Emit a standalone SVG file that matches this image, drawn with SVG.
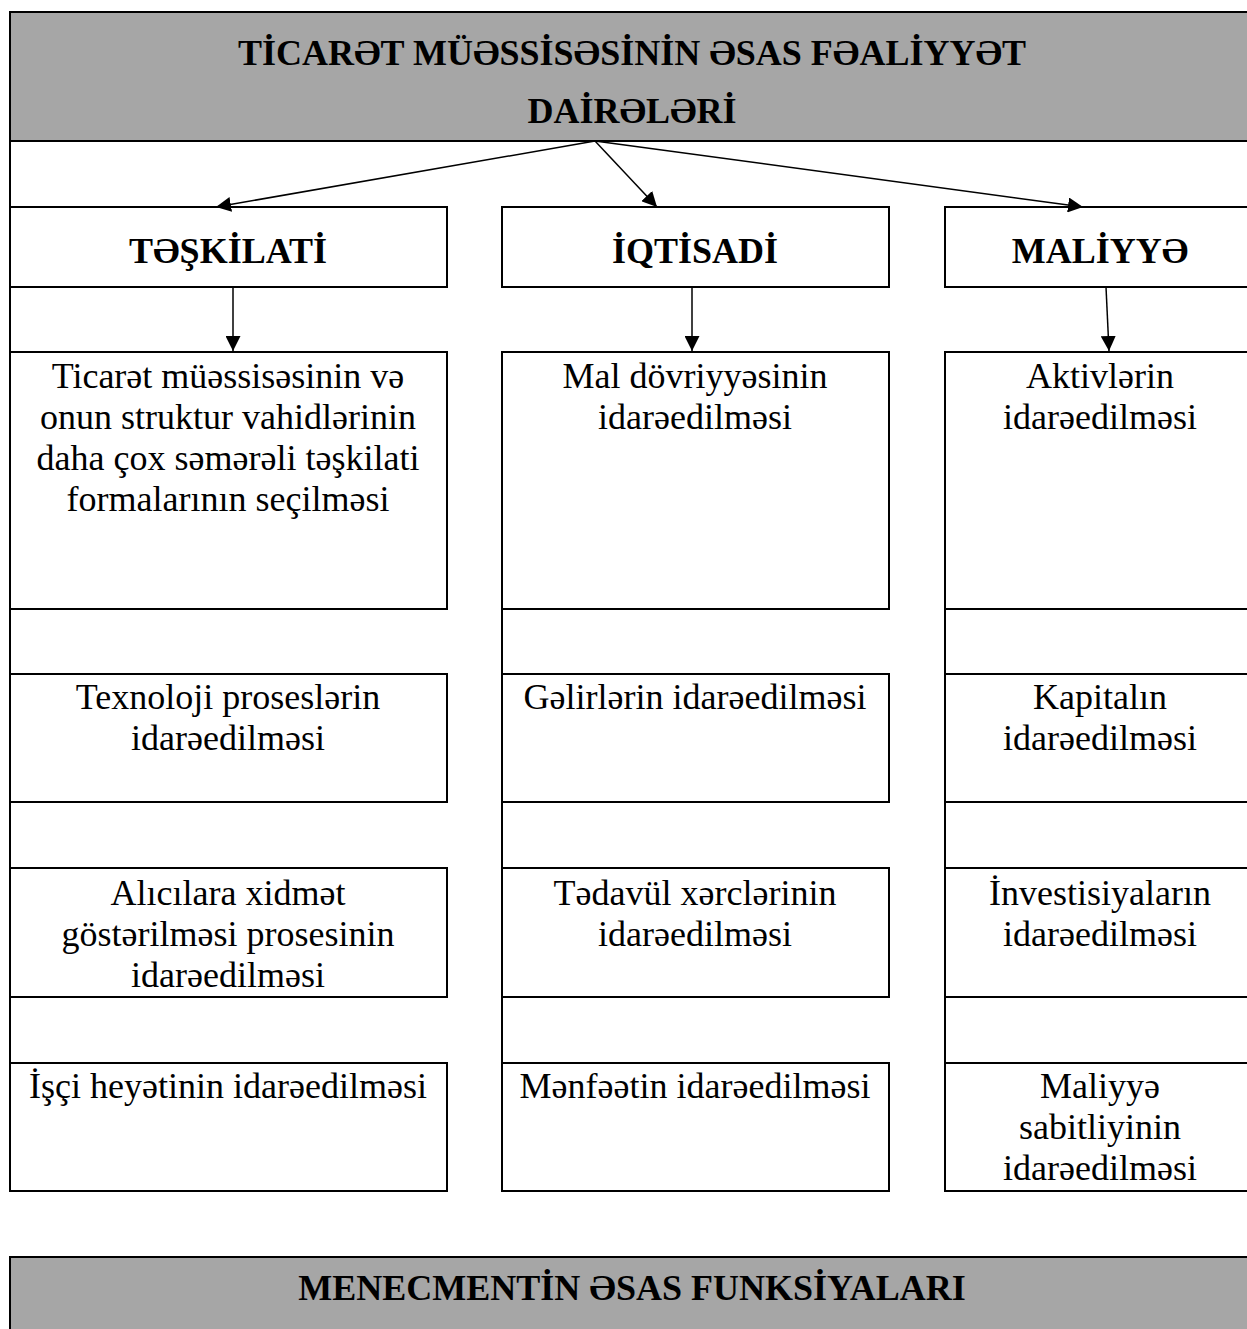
<svg xmlns="http://www.w3.org/2000/svg" width="1247" height="1329" viewBox="0 0 1247 1329">
<style>
.box{fill:#fff;stroke:#000;stroke-width:2}
.hdr{fill:#a6a6a6;stroke:#000;stroke-width:2}
.ln{stroke:#000;stroke-width:2;fill:none}
.con{stroke:#000;stroke-width:1.5;fill:none;marker-end:url(#ah)}
.t{font-family:"Liberation Serif","Times New Roman",serif;font-size:36px;text-anchor:middle;fill:#000}
.b{font-weight:bold}
</style>
<defs>
<marker id="ah" markerUnits="userSpaceOnUse" markerWidth="15" markerHeight="15" refX="15" refY="7.5" orient="auto">
<path d="M0,0 L15,7.5 L0,15 z" fill="#000"/>
</marker>
</defs>
<rect x="0" y="0" width="1247" height="1329" fill="#fff"/>
<g id="frame">
<line class="ln" x1="10" y1="12" x2="10" y2="1191"/>
<line class="ln" x1="502" y1="352" x2="502" y2="1191"/>
<line class="ln" x1="945" y1="352" x2="945" y2="1191"/>
</g>
<g id="title">
<rect class="hdr" x="10" y="12" width="1250" height="129"/>
<text class="t b" x="632" y="65">TİCARƏT MÜƏSSİSƏSİNİN ƏSAS FƏALİYYƏT</text>
<text class="t b" x="632" y="123">DAİRƏLƏRİ</text>
</g>
<g id="cat-teskilati">
<rect class="box" x="10" y="207" width="437" height="80"/>
<text class="t b" x="228" y="263">TƏŞKİLATİ</text>
</g>
<g id="cat-iqtisadi">
<rect class="box" x="502" y="207" width="387" height="80"/>
<text class="t b" x="695" y="263">İQTİSADİ</text>
</g>
<g id="cat-maliyye">
<rect class="box" x="945" y="207" width="315" height="80"/>
<text class="t b" x="1100" y="263">MALİYYƏ</text>
</g>
<g id="l1">
<rect class="box" x="10" y="352" width="437" height="257"/>
<text class="t" x="228" y="388">Ticarət müəssisəsinin və</text>
<text class="t" x="228" y="429">onun struktur vahidlərinin</text>
<text class="t" x="228" y="470">daha çox səmərəli təşkilati</text>
<text class="t" x="228" y="511">formalarının seçilməsi</text>
</g>
<g id="l2">
<rect class="box" x="10" y="674" width="437" height="128"/>
<text class="t" x="228" y="709">Texnoloji proseslərin</text>
<text class="t" x="228" y="750">idarəedilməsi</text>
</g>
<g id="l3">
<rect class="box" x="10" y="868" width="437" height="129"/>
<text class="t" x="228" y="905">Alıcılara xidmət</text>
<text class="t" x="228" y="946">göstərilməsi prosesinin</text>
<text class="t" x="228" y="987">idarəedilməsi</text>
</g>
<g id="l4">
<rect class="box" x="10" y="1063" width="437" height="128"/>
<text class="t" x="228" y="1098">İşçi heyətinin idarəedilməsi</text>
</g>
<g id="m1">
<rect class="box" x="502" y="352" width="387" height="257"/>
<text class="t" x="695" y="388">Mal dövriyyəsinin</text>
<text class="t" x="695" y="429">idarəedilməsi</text>
</g>
<g id="m2">
<rect class="box" x="502" y="674" width="387" height="128"/>
<text class="t" x="695" y="709">Gəlirlərin idarəedilməsi</text>
</g>
<g id="m3">
<rect class="box" x="502" y="868" width="387" height="129"/>
<text class="t" x="695" y="905">Tədavül xərclərinin</text>
<text class="t" x="695" y="946">idarəedilməsi</text>
</g>
<g id="m4">
<rect class="box" x="502" y="1063" width="387" height="128"/>
<text class="t" x="695" y="1098">Mənfəətin idarəedilməsi</text>
</g>
<g id="r1">
<rect class="box" x="945" y="352" width="315" height="257"/>
<text class="t" x="1100" y="388">Aktivlərin</text>
<text class="t" x="1100" y="429">idarəedilməsi</text>
</g>
<g id="r2">
<rect class="box" x="945" y="674" width="315" height="128"/>
<text class="t" x="1100" y="709">Kapitalın</text>
<text class="t" x="1100" y="750">idarəedilməsi</text>
</g>
<g id="r3">
<rect class="box" x="945" y="868" width="315" height="129"/>
<text class="t" x="1100" y="905">İnvestisiyaların</text>
<text class="t" x="1100" y="946">idarəedilməsi</text>
</g>
<g id="r4">
<rect class="box" x="945" y="1063" width="315" height="128"/>
<text class="t" x="1100" y="1098">Maliyyə</text>
<text class="t" x="1100" y="1139">sabitliyinin</text>
<text class="t" x="1100" y="1180">idarəedilməsi</text>
</g>
<g id="menecment">
<rect class="hdr" x="10" y="1257" width="1250" height="90"/>
<text class="t b" x="632" y="1300">MENECMENTİN ƏSAS FUNKSİYALARI</text>
</g>
<g id="connectors">
<line class="con" x1="595" y1="141" x2="216" y2="207"/>
<line class="con" x1="595" y1="141" x2="657" y2="207"/>
<line class="con" x1="595" y1="141" x2="1083" y2="207"/>
<line class="con" x1="233" y1="287" x2="233" y2="351"/>
<line class="con" x1="692" y1="287" x2="692" y2="351"/>
<line class="con" x1="1106" y1="287" x2="1109" y2="351"/>
</g>
</svg>
